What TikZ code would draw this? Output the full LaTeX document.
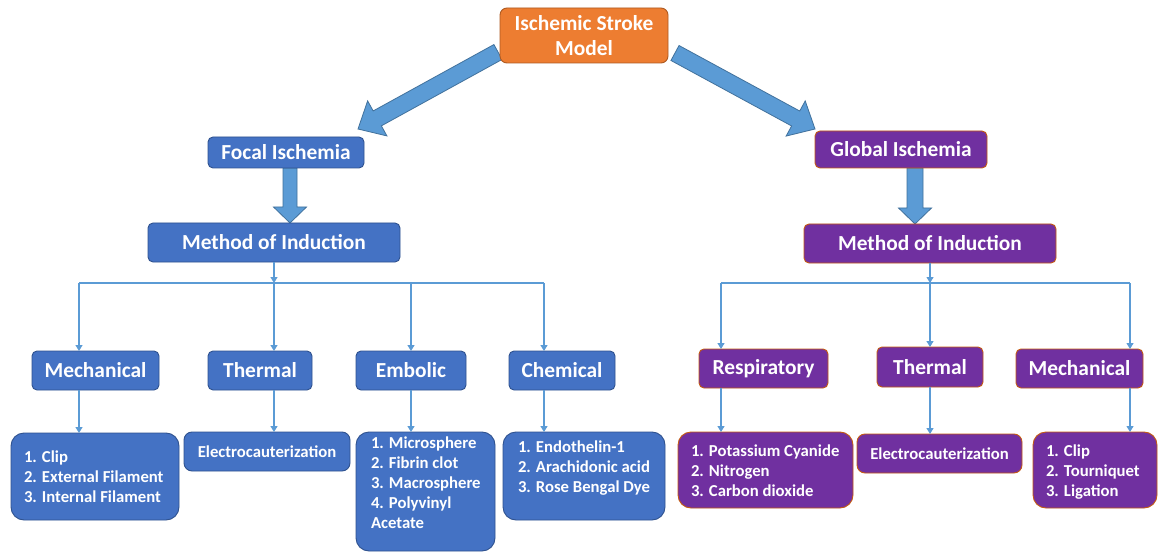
\documentclass[tikz,border=0pt]{standalone}
\usepackage{fontspec}
\setmainfont{Carlito}
\usetikzlibrary{calc,arrows.meta,backgrounds}
\definecolor{boxblue}{HTML}{4472C4}
\definecolor{blueedge}{HTML}{2F528F}
\definecolor{purp}{HTML}{7030A0}
\definecolor{purpedge}{HTML}{C55A11}
\definecolor{orng}{HTML}{ED7D31}
\definecolor{orngedge}{HTML}{AE5A21}
\definecolor{arrblue}{HTML}{5B9BD5}
\definecolor{arredge}{HTML}{41719C}
\newcommand{\bigarrow}[6]{% name, A, B, half shaft, half head, head length
  \coordinate (#1h) at ($(#3)!#6!(#2)$);
  \path[fatarrow] ($(#2)!#4!90:(#3)$) -- ($(#1h)!#4!90:(#3)$) -- ($(#1h)!#5!90:(#3)$)
    -- (#3) -- ($(#1h)!#5!-90:(#3)$) -- ($(#1h)!#4!-90:(#3)$) -- ($(#2)!#4!-90:(#3)$) -- cycle;}
\begin{document}
\begin{tikzpicture}[x=1pt,y=-1pt,
  every node/.style={inner sep=0pt, outer sep=0pt},
  bigfont/.style={font=\fontsize{21.4}{25}\selectfont\bfseries},
  smallfont/.style={font=\fontsize{16.7}{20}\selectfont\bfseries},
  bluebox/.style={draw=blueedge, fill=boxblue, line width=0.9pt, text=white, rounded corners=5pt},
  purpbox/.style={draw=purpedge, fill=purp, line width=0.9pt, text=white, rounded corners=5pt},
  listtext/.style={smallfont, text=white, anchor=base west},
  conn/.style={draw=arrblue, line width=1.2pt, -{Triangle[width=7pt,length=6pt]}},
  busline/.style={draw=arrblue, line width=1.2pt},
  fatarrow/.style={fill=arrblue, draw=arredge, line width=0.8pt, line join=miter},
]
\useasboundingbox (0,0) rectangle (1158,553);

% level 0
\node[bigfont, draw=orngedge, fill=orng, line width=0.9pt, text=white, rounded corners=7pt,
      minimum width=168pt, minimum height=55pt, align=center] (top) at (584,35.5) {Ischemic Stroke\\Model};

% level 1
\node[bluebox, bigfont, minimum width=156pt, minimum height=31pt] (focal) at (286,152.5) {Focal Ischemia};
\node[purpbox, bigfont, minimum width=172pt, minimum height=37pt] (global) at (901,149.5) {Global Ischemia};

% level 2
\node[bluebox, bigfont, minimum width=252pt, minimum height=39pt] (m1) at (274,242.5) {Method of Induction};
\node[purpbox, bigfont, minimum width=252pt, minimum height=39pt] (m2) at (930,243.5) {Method of Induction};

% level 3
\node[bluebox, bigfont, minimum width=127pt, minimum height=39pt] (mech1) at (95.5,370.5) {Mechanical};
\node[bluebox, bigfont, minimum width=104pt, minimum height=39pt] (therm1) at (260,370.5) {Thermal};
\node[bluebox, bigfont, minimum width=110pt, minimum height=39pt] (embo) at (411,370.5) {Embolic};
\node[bluebox, bigfont, minimum width=106pt, minimum height=39pt] (chem) at (562,370.5) {Chemical};
\node[purpbox, bigfont, minimum width=129pt, minimum height=39pt] (resp) at (763.5,368.5) {Respiratory};
\node[purpbox, bigfont, minimum width=106pt, minimum height=40pt] (therm2) at (930,367) {Thermal};
\node[purpbox, bigfont, minimum width=127pt, minimum height=39pt] (mech2) at (1079.5,368.5) {Mechanical};

% level 4
\node[bluebox, rounded corners=13pt, minimum width=168pt, minimum height=87pt] (b1) at (95,476.5) {};
\node[bluebox, smallfont, rounded corners=8pt, minimum width=166pt, minimum height=39pt] (b2) at (267,451.5) {Electrocauterization};
\node[bluebox, rounded corners=13pt, minimum width=139pt, minimum height=119pt] (b3) at (425.5,491.5) {};
\node[bluebox, rounded corners=13pt, minimum width=162pt, minimum height=88pt] (b4) at (584,476) {};
\node[purpbox, rounded corners=13pt, minimum width=175pt, minimum height=76pt] (b5) at (765.5,470) {};
\node[purpbox, smallfont, rounded corners=8pt, minimum width=165pt, minimum height=39pt] (b6) at (939.5,453.5) {Electrocauterization};
\node[purpbox, rounded corners=13pt, minimum width=124pt, minimum height=76pt] (b7) at (1095,470) {};

\node[listtext] (t1) at (24,462) {\parbox[t]{160pt}{1. Clip\\2. External Filament\\3. Internal Filament}};
\node[listtext] (t3) at (371,448) {\parbox[t]{125pt}{1. Microsphere\\2. Fibrin clot\\3. Macrosphere\\4. Polyvinyl\\Acetate}};
\node[listtext] (t4) at (518,452) {\parbox[t]{145pt}{1. Endothelin-1\\2. Arachidonic acid\\3. Rose Bengal Dye}};
\node[listtext] (t5) at (691,456) {\parbox[t]{160pt}{1. Potassium Cyanide\\2. Nitrogen\\3. Carbon dioxide}};
\node[listtext] (t7) at (1046,456) {\parbox[t]{110pt}{1. Clip\\2. Tourniquet\\3. Ligation}};

% bus coordinates
\coordinate (L1) at (79,283);
\coordinate (L2) at (274,283);
\coordinate (L3) at (411,283);
\coordinate (L4) at (544,283);
\coordinate (R1) at (721,283);
\coordinate (R2) at (930,283);
\coordinate (R3) at (1130,283);

\draw[conn] (m1.south) -- (L2);
\draw[busline] (L1) -- (L4);
\draw[conn] (m2.south) -- (R2);
\draw[busline] (R1) -- (R3);
\foreach \c/\n/\b in {L1/mech1/b1, L2/therm1/b2, L3/embo/b3, L4/chem/b4, R1/resp/b5, R2/therm2/b6, R3/mech2/b7}{
  \draw[conn] (\c) -- (\c |- \n.north);
  \draw[conn] (\c |- \n.south) -- (\c |- \b.north);
}

% big arrows
\coordinate (aLs) at ([shift={(-2,-11)}]top.south west);
\coordinate (aLe) at ([shift={(-6,-8)}]focal.north east);
\coordinate (aRs) at ([shift={(7,-10)}]top.south east);
\coordinate (aRe) at ([shift={(0,-2)}]global.north west);
\coordinate (aFs) at ([shift={(4,0)}]focal.south);
\coordinate (aFe) at (aFs |- m1.north);
\coordinate (aGs) at ([shift={(14,0)}]global.south);
\coordinate (aGe) at (aGs |- m2.north);
\begin{scope}[on background layer]
  \fill[white] (0,0) rectangle (1158,553);
  \bigarrow{al}{aLs}{aLe}{8.5pt}{20pt}{22pt}
  \bigarrow{ar}{aRs}{aRe}{8.5pt}{20pt}{22pt}
  \bigarrow{af}{aFs}{aFe}{7pt}{16.5pt}{16pt}
  \bigarrow{ag}{aGs}{aGe}{8pt}{16.5pt}{16pt}
\end{scope}
\end{tikzpicture}
\end{document}
